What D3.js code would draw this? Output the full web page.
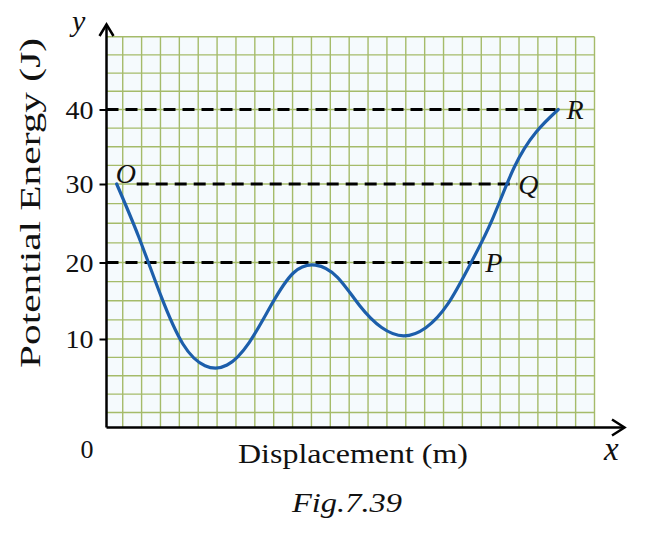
<!DOCTYPE html>
<html>
<head>
<meta charset="utf-8">
<script src="https://cdn.jsdelivr.net/npm/d3@7"></script>
<style>
    body { margin: 0; background: #fff; }
    text { font-family: "Liberation Serif", "Times New Roman", serif; fill: #111; }
</style>
</head>
<body>
<div id="chart"></div>
<script>
// displacement is counted in grid squares (no units printed on the figure),
// read off the picture at even steps so the spline stays a clean y(x)
const displacement = [-0.32, 0.85, 2.02, 3.19, 4.36, 5.53, 6.70, 7.87, 9.04, 10.21, 11.38,
    12.55, 13.72, 14.89, 16.06, 17.23, 18.40, 19.57, 20.74, 21.91, 23.08];
const energy = [30, 23.25, 15.66, 9.32, 6.37, 6.46, 9.52, 14.44, 18.63, 19.66, 18.07,
    14.38, 11.50, 10.42, 11.48, 14.59, 19.70, 25.41, 32.21, 36.98, 40];
const energyTicks = [10, 20, 30, 40];
const levels = [20, 30, 40];
const levelEnds = [19.0, 20.9, 23.3];
const levelNames = ["P", "Q", "R"];

renderChart("#chart");

function renderChart(parent) {
    const wSvg = 652;
    const hSvg = 555;

    const svg = d3.select(parent)
        .append("svg")
        .attr("width", wSvg)
        .attr("height", hSvg);

    // Scales (the printed grid is not quite uniform, so y is piecewise)
    const xScale = d3.scaleLinear([-0.86, 25], [106.5, 594.5]);
    const yScale = d3.scaleLinear()
        .domain([-2, 0, 10, 20, 30, 40, 50])
        .range([427.5, 412.5, 339, 262.5, 184, 109.5, 36.7]);

    const x0 = xScale(-0.86);
    const y0 = yScale(-2);
    const xO = xScale(displacement[0]);

    // graph paper
    svg.append("rect")
        .attr("x", x0)
        .attr("y", yScale(50))
        .attr("width", xScale(25) - x0)
        .attr("height", y0 - yScale(50))
        .attr("fill", "#f5fafd");

    const grid = svg.append("g")
        .attr("stroke", "#a5bb6a")
        .attr("stroke-width", 1.4);

    grid.selectAll("line.v")
        .data(d3.range(0, 26))
        .enter()
        .append("line")
        .attr("x1", d => xScale(d))
        .attr("x2", d => xScale(d))
        .attr("y1", yScale(50))
        .attr("y2", y0);

    grid.selectAll("line.h")
        .data(d3.range(0, 50.01, 2.5))
        .enter()
        .append("line")
        .attr("x1", x0)
        .attr("x2", xScale(25))
        .attr("y1", d => yScale(d))
        .attr("y2", d => yScale(d));

    // dashed levels (the 30 line starts after the O label)
    svg.selectAll("line.level")
        .data(levels)
        .enter()
        .append("line")
        .attr("x1", d => d == energy[0] ? xO + 20 : x0)
        .attr("x2", (d, i) => xScale(levelEnds[i]))
        .attr("y1", d => yScale(d))
        .attr("y2", d => yScale(d))
        .attr("stroke", "#000")
        .attr("stroke-width", 3)
        .attr("stroke-dasharray", "12,7");

    // curve
    const pts = displacement.map((d, i) => [d, energy[i]]);
    const line = d3.line()
        .x(d => xScale(d[0]))
        .y(d => yScale(d[1]))
        .curve(d3.curveNatural);

    svg.append("path")
        .attr("d", line(pts))
        .attr("fill", "none")
        .attr("stroke", "#1c5eab")
        .attr("stroke-width", 3.2)
        .attr("stroke-linecap", "round");

    // Axis
    const yAxis = svg.append("g")
        .attr("transform", `translate(${x0}, 0)`)
        .call(d3.axisLeft(yScale).tickValues(energyTicks).tickSize(7).tickPadding(6).tickFormat(d3.format("d")));
    yAxis.select(".domain").remove();
    yAxis.selectAll(".tick line").attr("stroke", "#000").attr("stroke-width", 2);
    yAxis.selectAll(".tick text")
        .attr("font-family", "Liberation Serif")
        .attr("font-size", 25)
        .attr("fill", "#111")
        .attr("dy", "0.34em")
        .attr("textLength", 28)
        .attr("lengthAdjust", "spacingAndGlyphs");

    const axes = svg.append("g")
        .attr("stroke", "#000")
        .attr("stroke-width", 2.5)
        .attr("fill", "none");
    axes.append("path").attr("d", `M${x0},${y0}V25`);
    axes.append("path").attr("d", `M${x0},${y0}H624`);
    axes.append("path").attr("d", `M${x0 - 7},36 L${x0},24.5 L${x0 + 7},36`);
    axes.append("path").attr("d", `M612,419.5 L624.5,${y0} L612,435.5`);

    // point names
    svg.append("text")
        .attr("x", xO - 1)
        .attr("y", yScale(energy[0]) - 1)
        .attr("font-size", 28)
        .attr("font-style", "italic")
        .text("O");

    svg.selectAll("text.pt")
        .data(levels)
        .enter()
        .append("text")
        .attr("x", (d, i) => xScale(levelEnds[i]) + (i == 1 ? 1 : 4))
        .attr("y", d => yScale(d) + 9.5)
        .attr("font-size", 28)
        .attr("font-style", "italic")
        .text((d, i) => levelNames[i]);

    // axis titles
    svg.append("text")
        .attr("x", 93.5).attr("y", 458)
        .attr("text-anchor", "end")
        .attr("font-size", 26)
        .text("0");

    svg.append("text")
        .attr("x", 72).attr("y", 31)
        .attr("font-size", 30)
        .attr("font-style", "italic")
        .text("y");

    svg.append("text")
        .attr("x", 604).attr("y", 460)
        .attr("font-size", 33)
        .attr("font-style", "italic")
        .text("x");

    svg.append("text")
        .attr("x", 238).attr("y", 463)
        .attr("font-size", 27)
        .attr("textLength", 230)
        .attr("lengthAdjust", "spacingAndGlyphs")
        .text("Displacement (m)");

    svg.append("text")
        .attr("transform", "translate(39.5, 368) rotate(-90)")
        .attr("font-size", 30)
        .attr("textLength", 330)
        .attr("lengthAdjust", "spacingAndGlyphs")
        .text("Potential Energy (J)");

    svg.append("text")
        .attr("x", 292).attr("y", 512)
        .attr("font-size", 28)
        .attr("font-style", "italic")
        .attr("textLength", 110)
        .attr("lengthAdjust", "spacingAndGlyphs")
        .text("Fig.7.39");
}
</script>
</body>
</html>
